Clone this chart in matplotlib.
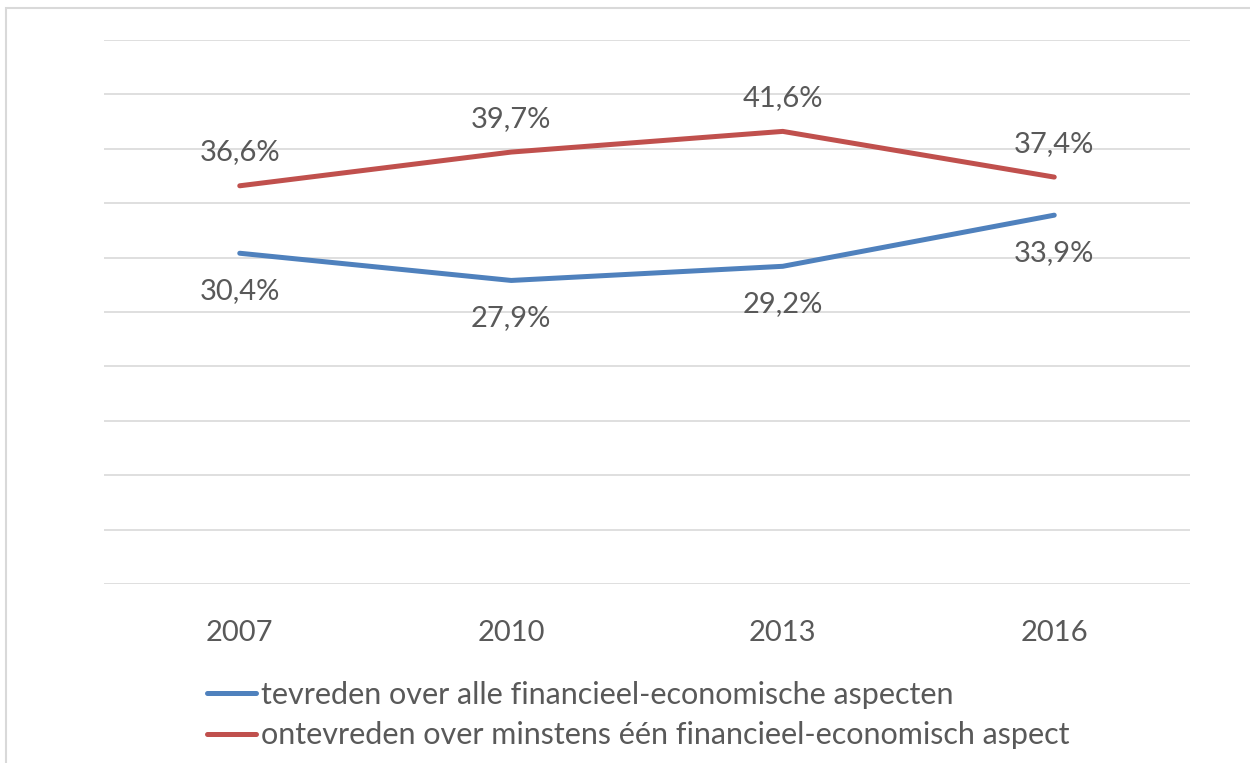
import matplotlib
matplotlib.use("Agg")
import matplotlib.pyplot as plt
from matplotlib.patches import Rectangle

years = ["2007", "2010", "2013", "2016"]
tevreden = [30.4, 27.9, 29.2, 33.9]
ontevreden = [36.6, 39.7, 41.6, 37.4]
labels = ["tevreden over alle financieel-economische aspecten",
          "ontevreden over minstens één financieel-economisch aspect"]

plt.rcParams['font.family'] = ['Lato', 'DejaVu Sans']
TXT = '#595959'
BLUE = '#4f81bd'
RED = '#c0504d'
FS = 21

fig = plt.figure(figsize=(12.5, 7.63), dpi=100)
fig.patches.append(Rectangle((6/1250, -0.1), 1.2, 1 - 8/763 + 0.1, transform=fig.transFigure,
                             fill=False, edgecolor='#d9d9d9', linewidth=1.5))
ax = fig.add_axes([104/1250, 1 - 584/763, (1190 - 104)/1250, (584 - 40)/763])
x = list(range(len(years)))
l1, = ax.plot(x, tevreden, color=BLUE, lw=3.6, solid_capstyle='round', zorder=3)
l2, = ax.plot(x, ontevreden, color=RED, lw=3.6, solid_capstyle='round', zorder=3)

ax.set_xlim(-0.5, 3.5)
ax.set_ylim(0, 50)
ax.set_yticks(range(0, 51, 5))
ax.set_yticklabels([])
ax.tick_params(axis='y', length=0)
ax.grid(axis='y', color='#d9d9d9', lw=1.2)
ax.set_axisbelow(True)
for s in ax.spines.values():
    s.set_visible(False)
ax.set_xticks(x)
ax.set_xticklabels(years, fontsize=FS, color=TXT)
ax.tick_params(axis='x', length=0, pad=26)

def fmt(v):
    return f"{v:.1f}%".replace('.', ',')

for i, v in enumerate(ontevreden):
    ax.annotate(fmt(v), (i, v), xytext=(0, 24), textcoords='offset points',
                ha='center', va='center', fontsize=FS, color=TXT)
for i, v in enumerate(tevreden):
    ax.annotate(fmt(v), (i, v), xytext=(0, -27), textcoords='offset points',
                ha='center', va='center', fontsize=FS, color=TXT)

leg = fig.legend([l1, l2], labels, loc='upper left', bbox_to_anchor=(207/1250, 1 - 681/763),
                 frameon=False, fontsize=22, handlelength=1.6, handletextpad=0.16,
                 labelspacing=0.4, borderaxespad=0, borderpad=0)
for t in leg.get_texts():
    t.set_color(TXT)

fig.savefig('out.png', dpi=100)
